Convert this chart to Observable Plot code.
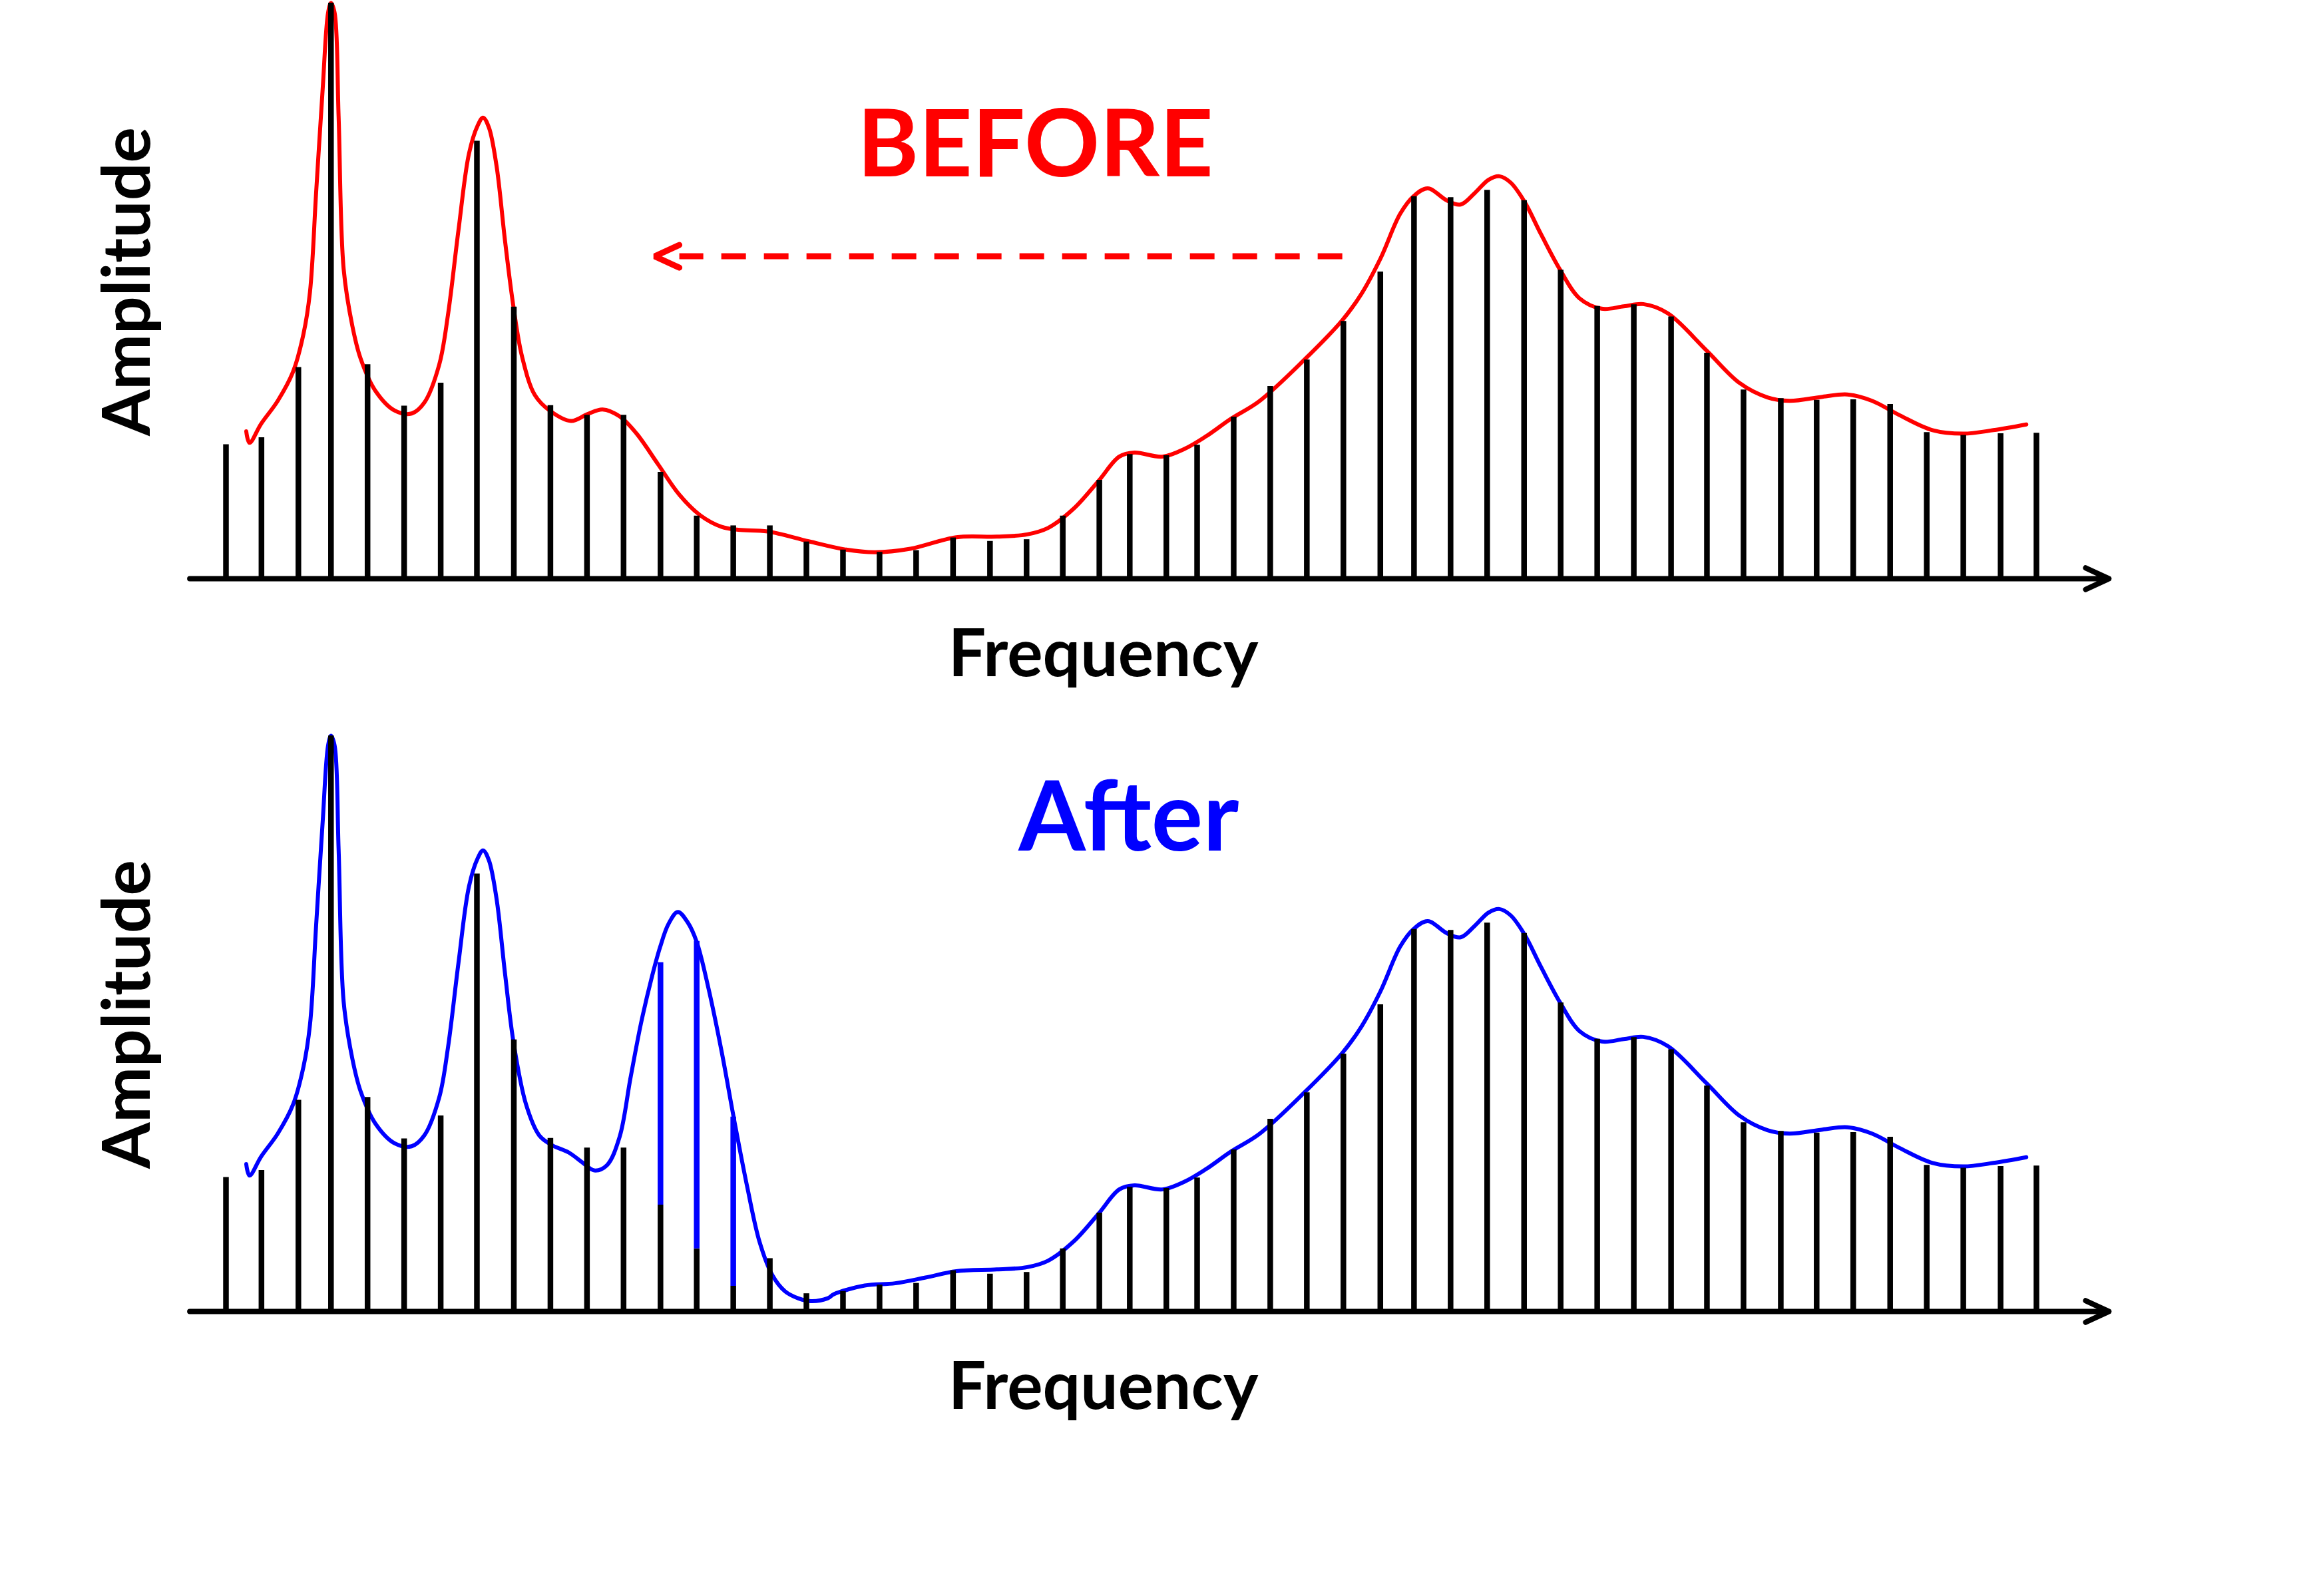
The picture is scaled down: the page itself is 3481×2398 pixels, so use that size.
<!DOCTYPE html>
<html>
<head>
<meta charset="utf-8">
<script src="https://cdn.jsdelivr.net/npm/d3@7"></script>
<script src="https://cdn.jsdelivr.net/npm/@observablehq/plot@0.6"></script>
<style>
  html, body { margin: 0; padding: 0; background: #ffffff; }
  #chart svg { display: block; }
</style>
</head>
<body>
<div id="chart"></div>
<script>
// Spectral line positions (bin frequency) and amplitudes, in % of the tallest line.
const frequencyBins = [
  1.00, 1.98, 3.00, 3.90, 4.91, 5.92, 6.93, 7.93, 8.95, 9.96,
  10.97, 11.98, 13.00, 14.00, 15.01, 16.02, 17.03, 18.04, 19.05, 20.06,
  21.08, 22.10, 23.11, 24.11, 25.12, 25.96, 26.97, 27.82, 28.83, 29.84,
  30.85, 31.86, 32.88, 33.81, 34.82, 35.83, 36.85, 37.86, 38.87, 39.88,
  40.91, 41.90, 42.91, 43.94, 44.93, 45.94, 46.96, 47.97, 48.98, 50.01,
  51.00
];

const beforeAmplitude = [
  23.3, 24.5, 36.7, 100, 37.2, 30.0, 34.0, 76.0, 47.2, 30.1,
  28.4, 28.4, 18.5, 10.9, 9.2, 9.2, 6.4, 5.0, 4.6, 4.9,
  7.1, 6.5, 6.8, 10.9, 17.1, 21.6, 21.4, 23.2, 28.1, 33.4,
  38.0, 44.7, 53.3, 66.4, 66.2, 67.5, 65.7, 53.6, 47.3, 47.6,
  45.5, 39.2, 32.8, 31.3, 31.0, 31.1, 30.3, 25.4, 24.9, 25.2,
  25.3
];

const afterAmplitude = [
  23.3, 24.5, 36.7, 100, 37.2, 30.0, 34.0, 76.0, 47.2, 30.1,
  28.4, 28.4, 18.5, 10.9, 4.4, 9.2, 3.1, 3.5, 4.6, 4.9,
  7.1, 6.5, 6.8, 10.9, 17.1, 21.6, 21.4, 23.2, 28.1, 33.4,
  38.0, 44.7, 53.3, 66.4, 66.2, 67.5, 65.7, 53.6, 47.3, 47.6,
  45.5, 39.2, 32.8, 31.3, 31.0, 31.1, 30.3, 25.4, 24.9, 25.2,
  25.3
];

// Lines raised by the processing (index into the bins), and the level they reach afterwards.
const boostedBins = [13, 14, 15];
const boostedAmplitude = [60.6, 64.3, 33.8];

// Hand-traced spectral envelopes (frequency, amplitude).
const beforeEnvelopeFrequency = [
  1.56, 1.65, 1.97, 2.43, 2.85, 3.14, 3.32, 3.49, 3.67, 3.82, 3.90, 4.00, 4.11, 4.25, 4.49,
  4.72, 5.13, 5.66, 6.13, 6.48, 6.89, 7.13, 7.42, 7.71, 7.95, 8.10, 8.26, 8.47, 8.71, 8.94,
  9.18, 9.53, 9.94, 10.53, 10.99, 11.40, 11.87, 12.34, 12.93, 13.52, 14.10, 14.69, 15.15, 15.96, 17.09,
  18.08, 18.92, 19.90, 21.17, 22.29, 23.13, 23.70, 24.40, 25.10, 25.67, 26.09, 26.86, 27.49, 28.06, 28.76,
  29.53, 30.76, 31.83, 32.36, 32.89, 33.43, 33.81, 34.19, 34.72, 35.10, 35.49, 35.87, 36.17, 36.48, 36.86,
  37.32, 37.85, 38.38, 38.99, 39.60, 40.14, 40.82, 41.88, 42.80, 43.57, 44.18, 45.09, 45.78, 46.46, 47.22,
  48.13, 48.98, 49.81, 50.72
];
const beforeEnvelopeAmplitude = [
  25.6, 23.6, 26.9, 30.9, 35.9, 42.5, 49.8, 67.1, 85.0, 98.3, 100, 98.3, 80.4, 53.8, 43.9,
  38.2, 32.6, 29.2, 28.7, 30.6, 37.2, 45.8, 60.5, 73.8, 78.7, 80.1, 78.4, 71.8, 58.5, 47.2,
  38.5, 31.9, 29.2, 27.4, 28.6, 29.4, 28.2, 25.2, 19.9, 14.6, 11.0, 9.0, 8.5, 8.2, 6.5,
  5.1, 4.6, 5.2, 7.2, 7.3, 7.7, 8.8, 12.1, 17.0, 21.2, 21.9, 21.2, 22.6, 24.7, 27.8,
  30.8, 37.9, 44.9, 49.5, 55.7, 63.4, 66.5, 67.8, 65.7, 65.0, 67.0, 69.3, 69.9, 68.8, 65.5,
  59.8, 53.6, 48.7, 46.9, 47.3, 47.7, 46.1, 39.7, 34.0, 31.5, 30.9, 31.6, 32.0, 30.9, 28.4,
  25.8, 25.2, 25.8, 26.8
];

const afterEnvelopeFrequency = [
  1.56, 1.65, 1.97, 2.43, 2.85, 3.14, 3.32, 3.49, 3.67, 3.82, 3.90, 4.00, 4.11, 4.25, 4.49,
  4.72, 5.13, 5.66, 6.13, 6.48, 6.89, 7.13, 7.42, 7.71, 7.95, 8.10, 8.26, 8.47, 8.71, 8.94,
  9.29, 9.65, 10.00, 10.47, 10.88, 11.17, 11.52, 11.87, 12.17, 12.46, 12.75, 12.99, 13.22, 13.48, 13.75,
  14.00, 14.33, 14.69, 15.04, 15.39, 15.74, 16.09, 16.44, 16.80, 17.15, 17.62, 17.79, 18.64, 19.48, 20.32,
  21.17, 22.29, 23.13, 23.70, 24.40, 25.10, 25.67, 26.09, 26.86, 27.49, 28.06, 28.76,
  29.53, 30.76, 31.83, 32.36, 32.89, 33.43, 33.81, 34.19, 34.72, 35.10, 35.49, 35.87, 36.17, 36.48, 36.86,
  37.32, 37.85, 38.38, 38.99, 39.60, 40.14, 40.82, 41.88, 42.80, 43.57, 44.18, 45.09, 45.78, 46.46, 47.22,
  48.13, 48.98, 49.81, 50.72
];
const afterEnvelopeAmplitude = [
  25.6, 23.6, 26.9, 30.9, 35.9, 42.5, 49.8, 67.1, 85.0, 98.3, 100, 98.3, 80.4, 53.8, 43.9,
  38.2, 32.6, 29.2, 28.7, 30.6, 37.2, 45.8, 60.5, 73.8, 78.7, 80.1, 78.4, 71.8, 58.5, 46.8,
  35.9, 30.6, 28.9, 27.6, 25.7, 24.5, 25.4, 30.3, 40.5, 50.0, 57.8, 63.3, 67.3, 69.4, 67.6,
  64.2, 56.0, 45.1, 33.1, 21.8, 12.0, 6.3, 3.5, 2.3, 1.8, 2.3, 3.0, 4.5, 4.9, 5.9,
  7.0, 7.3, 7.7, 8.8, 12.1, 17.0, 21.2, 21.9, 21.2, 22.6, 24.7, 27.8,
  30.8, 37.9, 44.9, 49.5, 55.7, 63.4, 66.5, 67.8, 65.7, 65.0, 67.0, 69.3, 69.9, 68.8, 65.5,
  59.8, 53.6, 48.7, 46.9, 47.3, 47.7, 46.1, 39.7, 34.0, 31.5, 30.9, 31.6, 32.0, 30.9, 28.4,
  25.8, 25.2, 25.8, 26.8
];

// Axis line span and the "shift" annotation, in data units.
const axisSpan = {from: 0, to: 53};
const shiftArrow = {from: 31.83, to: 12.84, amplitude: 56};

const RED = "#ff0000";
const BLUE = "#0000ff";
const FONT = "Lato, 'Open Sans', sans-serif";

const zip = (xs, ys) => xs.map((x, i) => ({freq: x, amp: ys[i]}));

function spectrumPanel({height, amplitudes, boost, envelope, color, title, titleAt, titleSize, extraMarks = []}) {
  const bins = zip(frequencyBins, amplitudes);
  const marks = [
    Plot.line(envelope, {x: "freq", y: "amp", curve: "catmull-rom", stroke: color, strokeWidth: 6}),
    Plot.ruleX(bins, {x: "freq", y1: 0, y2: "amp", stroke: "#000", strokeWidth: 8.5})
  ];
  if (boost) {
    marks.push(Plot.ruleX(boost, {x: "freq", y1: "base", y2: "amp", stroke: color, strokeWidth: 8.5}));
  }
  marks.push(
    Plot.arrow([axisSpan], {
      x1: "from", x2: "to", y1: () => 0, y2: () => 0,
      stroke: "#000", strokeWidth: 8, headLength: 7.2, headAngle: 50,
      strokeLinecap: "round", strokeLinejoin: "round"
    }),
    Plot.text([title], {
      x: () => titleAt[0], y: () => titleAt[1], text: d => d,
      fill: color, fontSize: titleSize, fontWeight: 700, fontFamily: FONT, lineAnchor: "bottom"
    }),
    Plot.text(["Frequency"], {
      x: () => 25.23, y: () => -16.9, text: d => d,
      fill: "#000", fontSize: 100, fontWeight: 700, fontFamily: FONT, lineAnchor: "bottom"
    }),
    Plot.text(["Amplitude"], {
      x: () => -1.10, y: () => 51.6, text: d => d, rotate: -90,
      fill: "#000", fontSize: 100, fontWeight: 700, fontFamily: FONT, lineAnchor: "bottom"
    }),
    ...extraMarks
  );
  return Plot.plot({
    width: 3481,
    height,
    marginLeft: 339,
    marginRight: 422,
    marginTop: 4,
    marginBottom: height - 869,
    x: {domain: [1, 51], axis: null},
    y: {domain: [0, 100], axis: null},
    style: {background: "#fff", overflow: "visible"},
    marks
  });
}

// Dashed shaft plus an open chevron head for the shift annotation.
const chevron = [
  {freq: shiftArrow.to + 0.68, amp: shiftArrow.amplitude + 1.97},
  {freq: shiftArrow.to, amp: shiftArrow.amplitude},
  {freq: shiftArrow.to + 0.68, amp: shiftArrow.amplitude - 1.97}
];
const shiftMarks = [
  Plot.link([shiftArrow], {
    x1: "from", x2: d => d.to + 0.68, y1: "amplitude", y2: "amplitude",
    stroke: RED, strokeWidth: 9, strokeDasharray: "37,27", strokeLinecap: "butt"
  }),
  Plot.line(chevron, {
    x: "freq", y: "amp", stroke: RED, strokeWidth: 9,
    strokeLinecap: "round", strokeLinejoin: "miter"
  })
];

const before = spectrumPanel({
  height: 1101,
  amplitudes: beforeAmplitude,
  envelope: zip(beforeEnvelopeFrequency, beforeEnvelopeAmplitude),
  color: RED,
  title: "BEFORE",
  titleAt: [23.35, 69.9],
  titleSize: 140,
  extraMarks: shiftMarks
});

const boost = boostedBins.map((b, i) => ({
  freq: frequencyBins[b - 1], base: afterAmplitude[b - 1], amp: boostedAmplitude[i]
}));
const after = spectrumPanel({
  height: 1297,
  amplitudes: afterAmplitude,
  boost,
  envelope: zip(afterEnvelopeFrequency, afterEnvelopeAmplitude),
  color: BLUE,
  title: "After",
  titleAt: [25.93, 80.1],
  titleSize: 145
});

document.getElementById("chart").append(before, after);
</script>
</body>
</html>
